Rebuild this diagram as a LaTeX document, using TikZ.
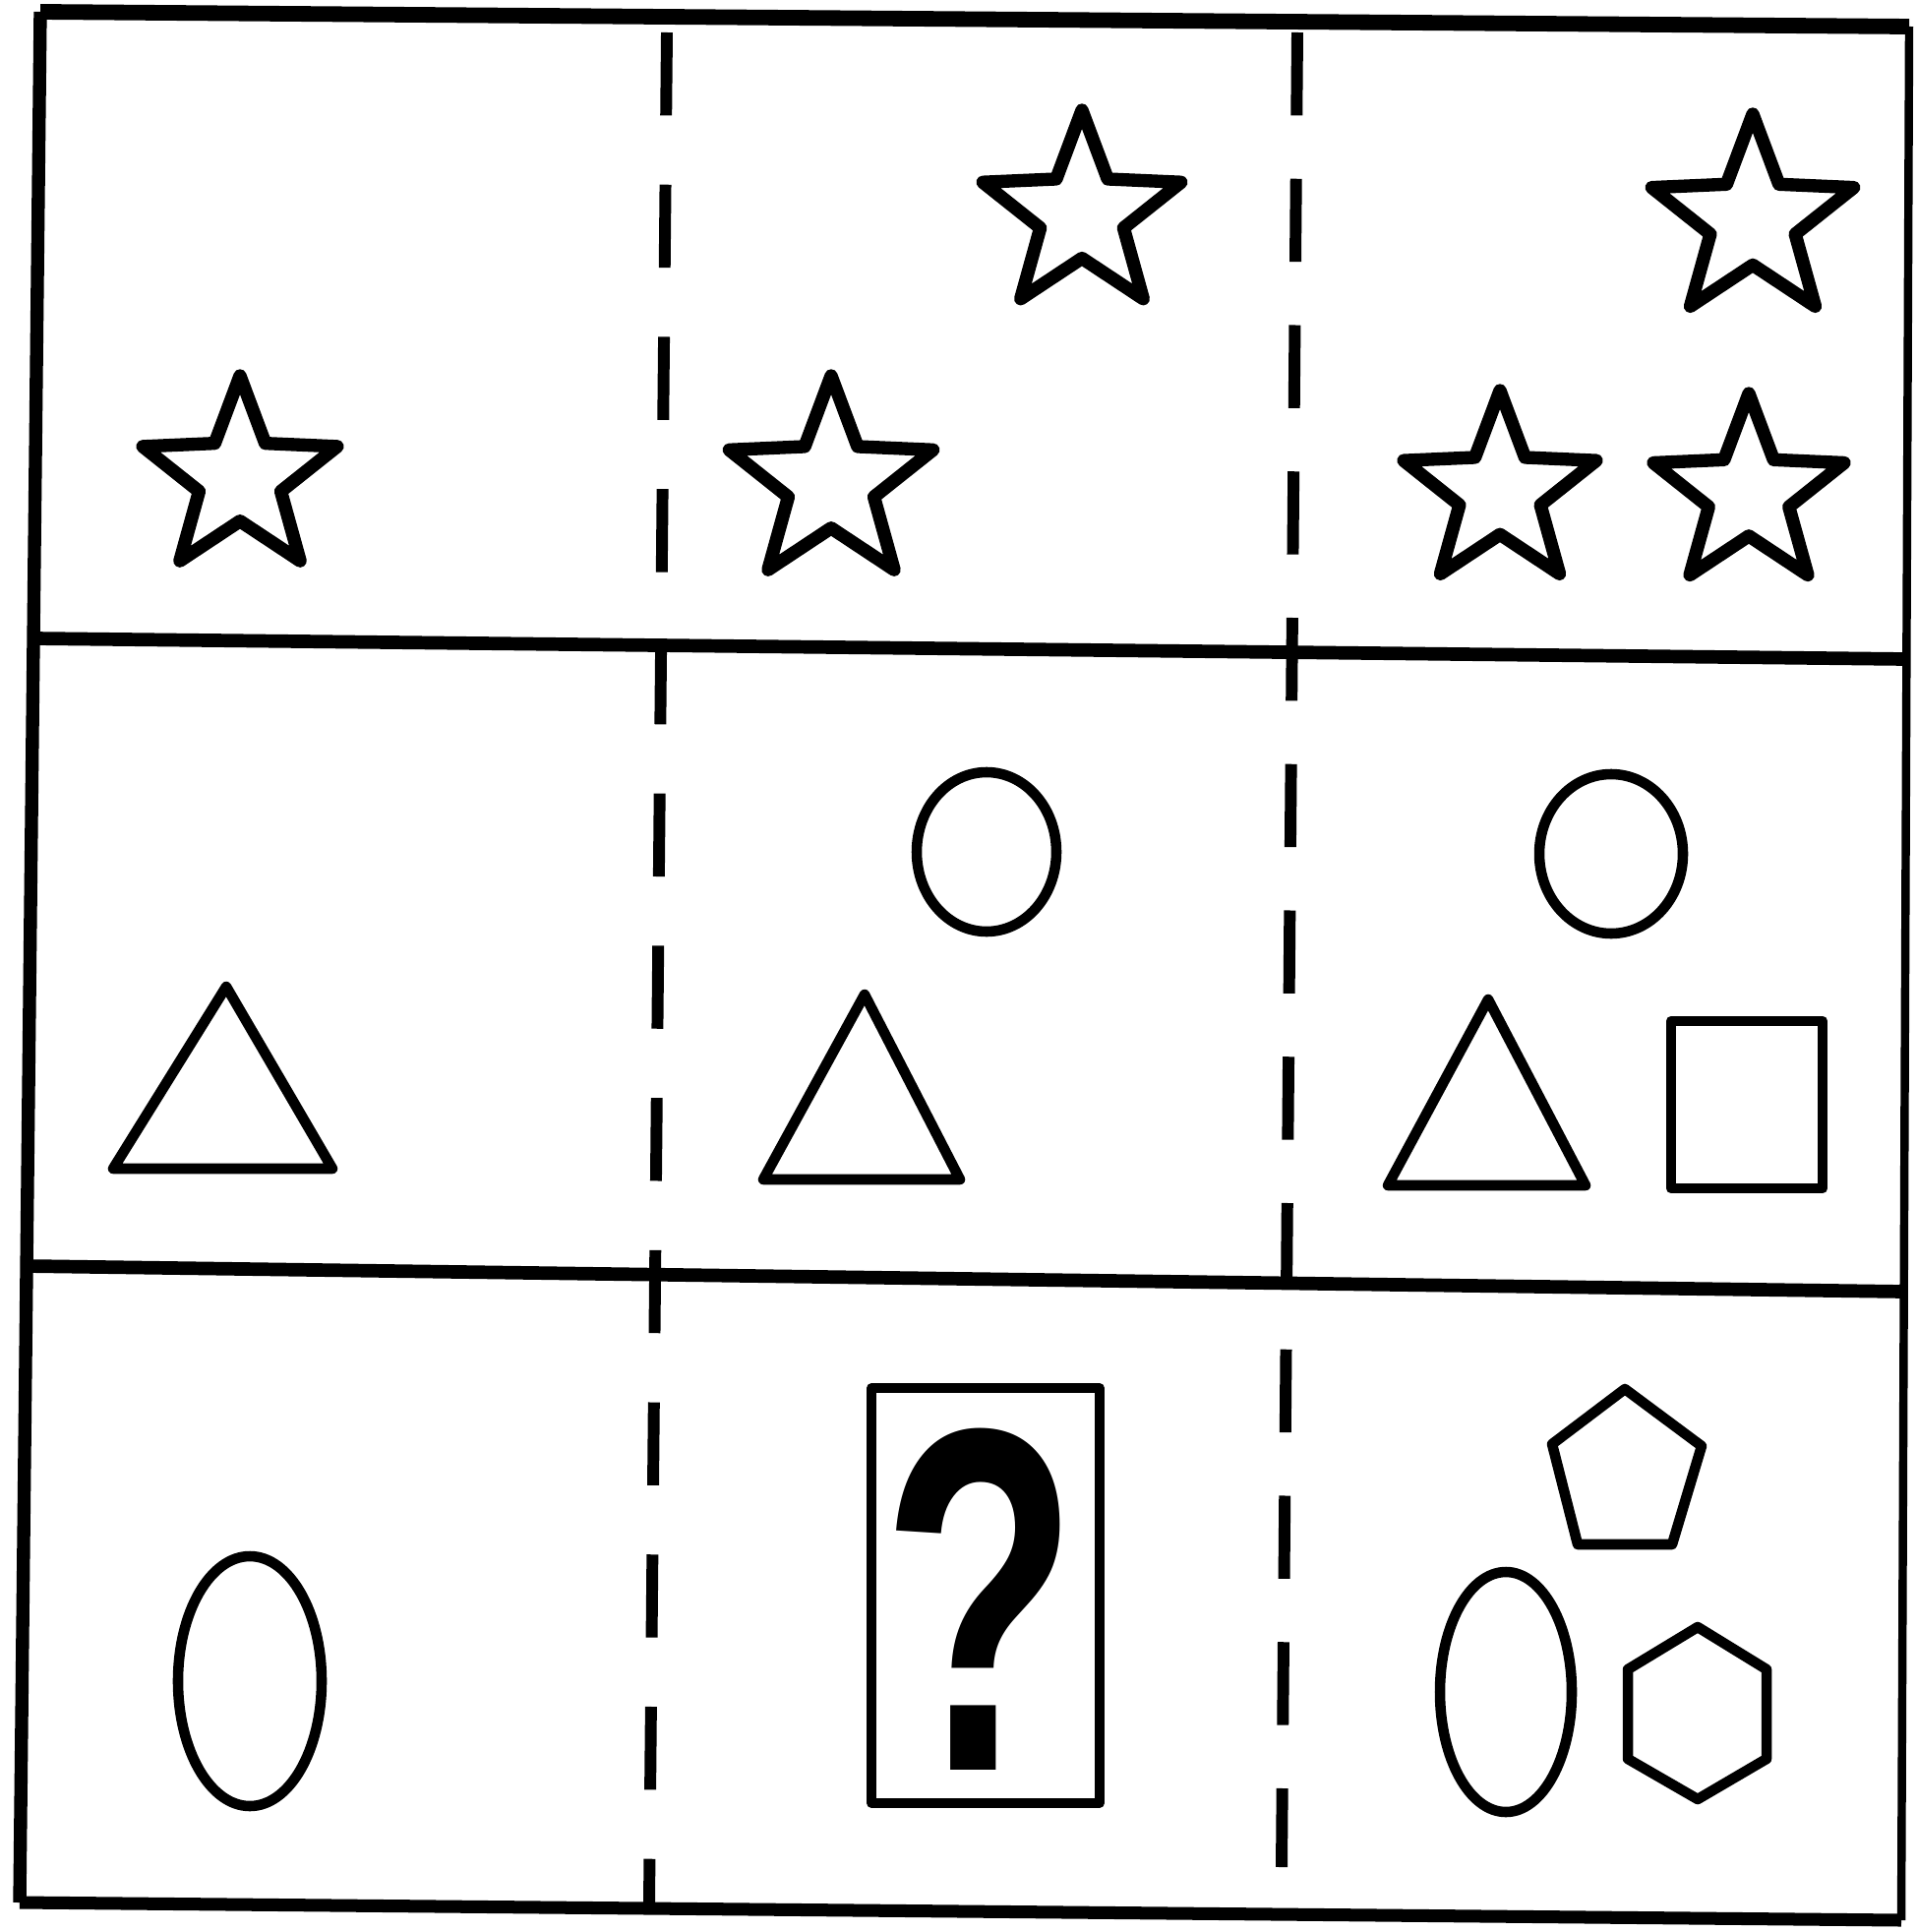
\documentclass[tikz,border=0pt]{standalone}
\usepackage{fontspec}
\usepackage{graphicx}
\usetikzlibrary{calc}
\newfontfamily\qfont{Liberation Sans}
\newcommand{\mystar}[3]{%
  \draw[starline] ($(#1,#2)+(-90:#3)$)
  \foreach \k in {1,...,9}{ -- ($(#1,#2)+({-90+36*\k}:{#3*(0.42+0.58*(1-mod(\k,2)))})$) } -- cycle;}
\begin{document}
\begin{tikzpicture}[x=0.01cm,y=-0.01cm,
  side/.style={line cap=square},
  divider/.style={line width=3.9pt},
  dashline/.style={line width=3.4pt, dash pattern=on 24pt off 20pt},
  shapeline/.style={line width=3pt, line join=round},
  starline/.style={line width=3.8pt, line join=round},
]
\useasboundingbox (0,0) rectangle (1948,1964);
% outer frame
\coordinate (TL) at (41,12);
\coordinate (TR) at (1941,27);
\coordinate (BR) at (1933,1952);
\coordinate (BL) at (20,1934);
\draw[side, line width=4.5pt] (TL) -- (TR);
\draw[side, line width=2.4pt] (TR) -- (BR);
\draw[side, line width=3.7pt] (BR) -- (BL);
\draw[side, line width=3.8pt] (BL) -- (TL);
% row dividers
\coordinate (H1L) at (34,649);
\coordinate (H1R) at (1938,670);
\coordinate (H2L) at (27,1287);
\coordinate (H2R) at (1936,1313);
\draw[divider] (H1L) -- (H1R);
\draw[divider] (H2L) -- (H2R);
% dashed column dividers
\coordinate (V1T) at (678,33);
\coordinate (V1B) at (660,1935);
\coordinate (V2T) at (1319,33);
\coordinate (V2B) at (1303,1898);
\draw[dashline] (V1T) -- (V1B);
\draw[dashline, dash pattern=on 24pt off 18.3pt] (V2T) -- (V2B);
% row 1: stars
\mystar{244}{486}{104}
\mystar{1100}{218}{106}
\mystar{845}{491}{109}
\mystar{1782}{224}{108}
\mystar{1525}{500}{103}
\mystar{1778}{502}{102}
% row 2
\draw[shapeline] (230,1003) -- (338,1188) -- (115,1188) -- cycle;
\draw[shapeline] (1003,866) ellipse [x radius=71, y radius=81];
\draw[shapeline] (879,1011) -- (976,1199) -- (776,1199) -- cycle;
\draw[shapeline] (1638,868) ellipse [x radius=73, y radius=81];
\draw[shapeline] (1513,1016) -- (1612,1205) -- (1411,1205) -- cycle;
\draw[shapeline] (1699,1038) rectangle (1853,1208);
% row 3
\draw[shapeline] (254,1709) ellipse [x radius=73, y radius=127];
\draw[shapeline, line width=2.7pt] (886,1411) rectangle (1118,1833);
\node[inner sep=0pt, anchor=center] (qmark) at (997,1626)
  {\resizebox{20mm}{34.7mm}{\qfont\bfseries ?}};
\draw[shapeline] (1652,1412) -- (1730,1470) -- (1700,1570) -- (1604,1570) -- (1578,1468) -- cycle;
\draw[shapeline] (1531,1720) ellipse [x radius=67, y radius=122];
\draw[shapeline] (1726,1654) -- (1796,1697) -- (1796,1788) -- (1726,1829) -- (1655,1788) -- (1655,1697) -- cycle;
\end{tikzpicture}
\end{document}
